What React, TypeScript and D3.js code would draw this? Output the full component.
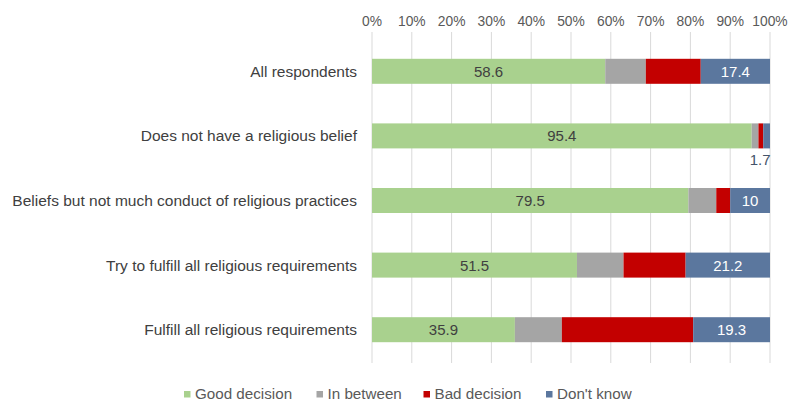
import React from "react";
import * as d3 from "d3";

const categories = [
  "All respondents",
  "Does not have a religious belief",
  "Beliefs but not much conduct of religious practices",
  "Try to fulfill all religious requirements",
  "Fulfill all religious requirements",
];
const seriesNames = ["Good decision", "In between", "Bad decision", "Don't know"];
const goodDecision = [58.6, 95.4, 79.5, 51.5, 35.9];
const inBetween = [10.2, 1.7, 7.0, 11.7, 11.8];
const badDecision = [13.8, 1.2, 3.5, 15.6, 33.0];
const dontKnow = [17.4, 1.7, 10, 21.2, 19.3];
const tickValues = [0, 10, 20, 30, 40, 50, 60, 70, 80, 90, 100];

const colors = ["#a9d18e", "#a5a5a5", "#c30000", "#5b779e"];

const W = 790;
const H = 403;
const FONT = "'Liberation Sans', Arial, sans-serif";

export default function App() {
  const x = d3.scaleLinear().domain([0, 100]).range([372, 770]);
  const y = d3
    .scaleBand<string>()
    .domain(categories)
    .range([39, 362])
    .paddingInner(0.613)
    .paddingOuter(0.3065);

  const rows = categories.map((c, i) => ({
    cat: c,
    values: [goodDecision[i], inBetween[i], badDecision[i], dontKnow[i]],
  }));

  const stack = d3
    .stack<{ cat: string; values: number[] }, number>()
    .keys([0, 1, 2, 3])
    .value((d, k) => d.values[k]);
  const stacked = stack(rows);

  const bw = y.bandwidth();

  const legendItems = [
    { x: 184, label: seriesNames[0] },
    { x: 316.5, label: seriesNames[1] },
    { x: 423.5, label: seriesNames[2] },
    { x: 546, label: seriesNames[3] },
  ];

  return (
    <svg
      width={W}
      height={H}
      style={{ position: "absolute", left: 0, top: 0, background: "#fff" }}
      fontFamily={FONT}
    >
      {tickValues.map((t) => (
        <line
          key={"g" + t}
          x1={x(t)}
          x2={x(t)}
          y1={32}
          y2={363}
          stroke="#d9d9d9"
          strokeWidth={1}
        />
      ))}
      {tickValues.map((t) => (
        <text
          key={"t" + t}
          x={x(t)}
          y={26}
          textAnchor="middle"
          fontSize={13.8}
          fill="#595959"
        >
          {t + "%"}
        </text>
      ))}
      {stacked.map((layer, si) =>
        layer.map((seg, ri) => (
          <rect
            key={si + "-" + ri}
            x={x(seg[0])}
            y={y(categories[ri])!}
            width={x(seg[1]) - x(seg[0])}
            height={bw}
            fill={colors[si]}
          />
        ))
      )}
      {stacked[0].map((seg, ri) => (
        <text
          key={"lg" + ri}
          x={(x(seg[0]) + x(seg[1])) / 2}
          y={y(categories[ri])! + bw / 2 + 5.5}
          textAnchor="middle"
          fontSize={15}
          fill="#404040"
        >
          {goodDecision[ri]}
        </text>
      ))}
      {stacked[3].map((seg, ri) => {
        const small = ri === 1;
        return (
          <text
            key={"ld" + ri}
            x={(x(seg[0]) + x(seg[1])) / 2 + (small ? -6.5 : 0)}
            y={small ? y(categories[ri])! + bw + 17 : y(categories[ri])! + bw / 2 + 5.5}
            textAnchor="middle"
            fontSize={15}
            fill={small ? "#44546a" : "#ffffff"}
          >
            {dontKnow[ri]}
          </text>
        );
      })}
      {categories.map((c) => (
        <text
          key={"c" + c}
          x={357}
          y={y(c)! + bw / 2 + 5.5}
          textAnchor="end"
          fontSize={15.5}
          fill="#404040"
        >
          {c}
        </text>
      ))}
      {legendItems.map((it, i) => (
        <g key={"lgd" + i}>
          <rect x={it.x} y={391} width={6.5} height={6.5} fill={colors[i]} />
          <text x={it.x + 11} y={399} fontSize={15.2} fill="#595959">
            {it.label}
          </text>
        </g>
      ))}
    </svg>
  );
}
